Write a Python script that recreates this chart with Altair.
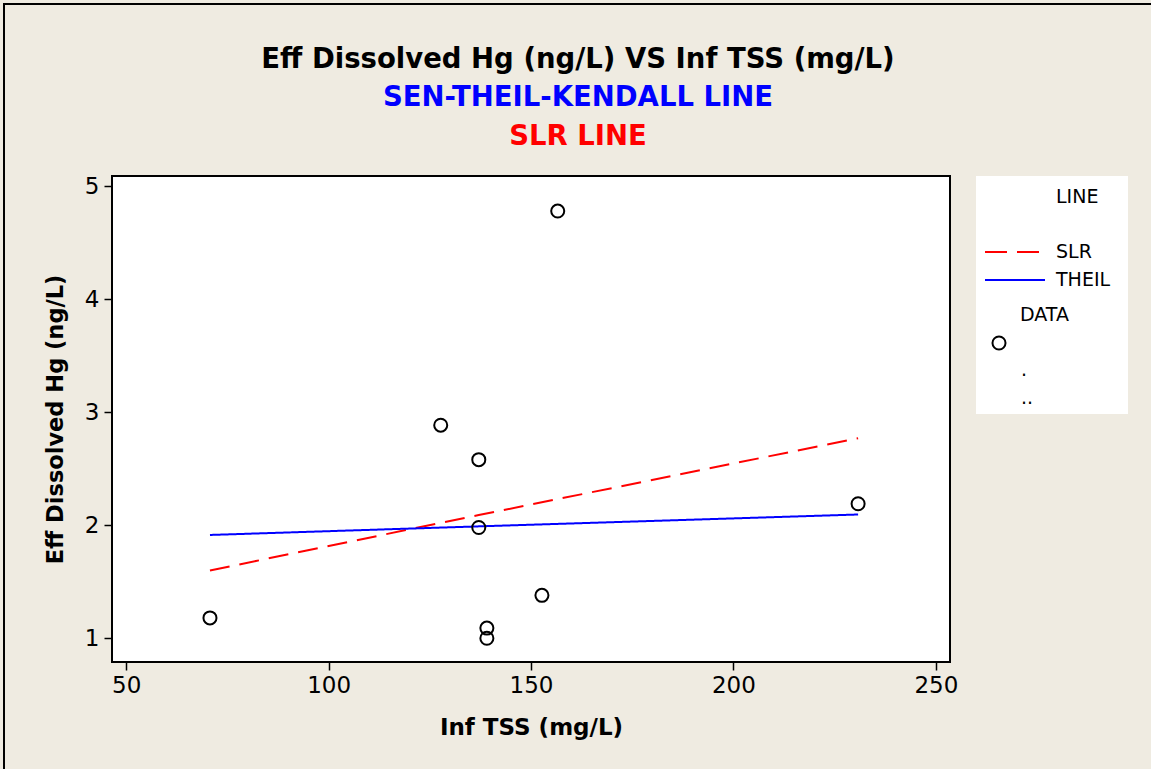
import altair as alt
import pandas as pd

# ---- data ----
inf_tss = [70.7, 127.7, 137.1, 137.1, 139.1, 139.1, 152.7, 156.6, 230.8]
eff_hg = [1.18, 2.885, 2.58, 1.98, 1.09, 1.00, 1.38, 4.78, 2.19]

line_x = [70.7, 137.1, 230.8]
slr_y = [1.60, 2.09, 2.77]
theil_y = [1.914, 1.99, 2.095]

x_ticks = [50, 100, 150, 200, 250]
y_ticks = [1, 2, 3, 4, 5]

title_lines = ["Eff Dissolved Hg (ng/L) VS Inf TSS (mg/L)", "SEN-THEIL-KENDALL LINE", "SLR LINE"]
title_colors = ["#000000", "#0000FF", "#FF0000"]

legend_texts = ["LINE", "SLR", "THEIL", "DATA", ".", ".."]

FONT = "DejaVu Sans"
W, H = 838, 486
PAD_L, PAD_T = 112, 176

pts = pd.DataFrame({"x": inf_tss, "y": eff_hg})
lines = pd.DataFrame({
    "x": line_x + line_x,
    "y": slr_y + theil_y,
    "series": ["SLR"] * len(line_x) + ["THEIL"] * len(line_x),
})

xs = alt.Scale(domain=[46.5, 253.5], nice=False, zero=False)
ys = alt.Scale(domain=[0.79, 5.09], nice=False, zero=False)

xax = alt.Axis(values=x_ticks, format="d", grid=False, domain=False, tickSize=8, tickColor="black",
               tickWidth=1.5, labelFontSize=23, labelFont=FONT, labelColor="black",
               labelPadding=4, title="Inf TSS (mg/L)", titleFont=FONT, titleFontSize=23,
               titleFontWeight="bold", titleColor="black", titleY=65, titleBaseline="middle")
yax = alt.Axis(values=y_ticks, format="d", grid=False, domain=False, tickSize=8, tickColor="black",
               tickWidth=1.5, labelFontSize=23, labelFont=FONT, labelColor="black",
               labelPadding=5, title="Eff Dissolved Hg (ng/L)", titleFont=FONT, titleFontSize=22.5,
               titleFontWeight="bold", titleColor="black", titleX=-57, titleAngle=-90,
               titleBaseline="middle")

line_layer = alt.Chart(lines).mark_line(strokeWidth=2).encode(
    x=alt.X("x:Q", scale=xs, axis=xax),
    y=alt.Y("y:Q", scale=ys, axis=yax),
    color=alt.Color("series:N", scale=alt.Scale(domain=["SLR", "THEIL"], range=["#FF0000", "#0000FF"]), legend=None),
    strokeDash=alt.StrokeDash("series:N", scale=alt.Scale(domain=["SLR", "THEIL"], range=[[20, 10], [1, 0]]), legend=None),
    detail="series:N",
)

pt_layer = alt.Chart(pts).mark_point(shape="circle", size=170, strokeWidth=2, color="black", filled=False, opacity=1).encode(
    x=alt.X("x:Q", scale=xs),
    y=alt.Y("y:Q", scale=ys),
)

# ---- titles ----
title_layers = []
for i, (t, c) in enumerate(zip(title_lines, title_colors)):
    ypos = [60, 98, 137][i] - PAD_T
    title_layers.append(
        alt.Chart(pd.DataFrame({"t": [t]})).mark_text(
            font=FONT, fontSize=27.5, fontWeight="bold", color=c, align="center", baseline="middle"
        ).encode(text="t:N", x=alt.value(578 - PAD_L), y=alt.value(ypos))
    )

# ---- legend panel ----
lg_box = alt.Chart(pd.DataFrame({"a": [0]})).mark_rect(fill="white").encode(
    x=alt.value(976 - PAD_L), x2=alt.value(1128 - PAD_L), y=alt.value(176 - PAD_T), y2=alt.value(414 - PAD_T)
)
legend_pos = [(1056, 197), (1056, 252), (1056, 280), (1020, 315), (1021, 370), (1021, 398)]
lg_text = []
for txt, (lx, ly) in zip(legend_texts, legend_pos):
    lg_text.append(
        alt.Chart(pd.DataFrame({"t": [txt]})).mark_text(
            font=FONT, fontSize=19, color="black", align="left", baseline="middle"
        ).encode(text="t:N", x=alt.value(lx - PAD_L), y=alt.value(ly - PAD_T))
    )
lg_slr = alt.Chart(pd.DataFrame({"a": [0]})).mark_rule(color="#FF0000", strokeWidth=2, strokeDash=[22, 10]).encode(
    x=alt.value(985 - PAD_L), x2=alt.value(1040 - PAD_L), y=alt.value(252 - PAD_T)
)
lg_theil = alt.Chart(pd.DataFrame({"a": [0]})).mark_rule(color="#0000FF", strokeWidth=2).encode(
    x=alt.value(985 - PAD_L), x2=alt.value(1045 - PAD_L), y=alt.value(280 - PAD_T)
)
lg_pt = alt.Chart(pd.DataFrame({"a": [0]})).mark_point(shape="circle", size=170, strokeWidth=2, color="black", filled=False, opacity=1).encode(
    x=alt.value(999 - PAD_L), y=alt.value(343 - PAD_T)
)

# outer border (top & left)
border_top = alt.Chart(pd.DataFrame({"a": [0]})).mark_rule(color="black", strokeWidth=2).encode(
    x=alt.value(3 - PAD_L), x2=alt.value(1151 - PAD_L), y=alt.value(4 - PAD_T)
)
border_left = alt.Chart(pd.DataFrame({"a": [0]})).mark_rule(color="black", strokeWidth=2).encode(
    x=alt.value(4 - PAD_L), y=alt.value(3 - PAD_T), y2=alt.value(769 - PAD_T)
)

chart = alt.layer(
    line_layer, pt_layer, *title_layers, lg_box, *lg_text, lg_slr, lg_theil, lg_pt, border_top, border_left
).properties(
    width=W, height=H,
    autosize=alt.AutoSizeParams(type="none"),
    padding={"left": PAD_L, "top": PAD_T, "right": 1151 - PAD_L - W, "bottom": 769 - PAD_T - H},
    background="#EFEBE1",
).configure_view(fill="white", stroke="black", strokeWidth=2)

chart.save("out.html", embed_options={"renderer": "svg", "actions": False})
